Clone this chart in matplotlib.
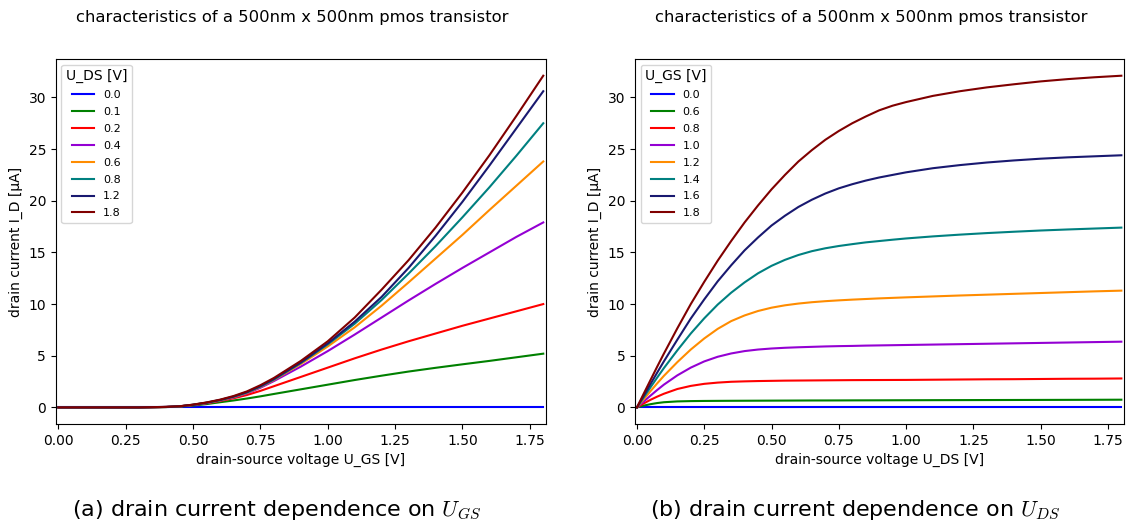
import matplotlib
matplotlib.use("Agg")
from matplotlib import pyplot as plt

# (a) I_D over U_GS, one curve per U_DS
u_gs = [0.0, 0.1, 0.2, 0.3, 0.4, 0.45, 0.5, 0.55, 0.6, 0.65, 0.7, 0.75, 0.8,
        0.9, 1.0, 1.1, 1.2, 1.3, 1.4, 1.5, 1.6, 1.7, 1.8]
u_ds_labels = ["0.0", "0.1", "0.2", "0.4", "0.6", "0.8", "1.2", "1.8"]
id_ds_00 = [0.0] * 23
id_ds_01 = [0, 0, 0, 0, 0.03, 0.08, 0.18, 0.32, 0.5, 0.67, 0.86, 1.07, 1.3,
            1.75, 2.2, 2.65, 3.07, 3.47, 3.83, 4.17, 4.5, 4.85, 5.2]
id_ds_02 = [0, 0, 0, 0, 0.04, 0.1, 0.22, 0.4, 0.62, 0.88, 1.2, 1.6, 2.05,
            2.95, 3.85, 4.75, 5.6, 6.4, 7.15, 7.9, 8.6, 9.3, 10.0]
id_ds_04 = [0, 0, 0, 0, 0.04, 0.1, 0.24, 0.42, 0.66, 0.96, 1.35, 1.9, 2.55,
            3.95, 5.45, 7.05, 8.7, 10.35, 11.95, 13.5, 15.0, 16.5, 17.9]
id_ds_06 = [0, 0, 0, 0, 0.04, 0.1, 0.25, 0.44, 0.68, 1.0, 1.4, 1.98, 2.65,
            4.2, 5.9, 7.75, 9.85, 12.1, 14.4, 16.7, 19.1, 21.45, 23.8]
id_ds_08 = [0, 0, 0, 0, 0.04, 0.1, 0.25, 0.45, 0.7, 1.03, 1.45, 2.02, 2.7,
            4.3, 6.1, 8.1, 10.4, 12.95, 15.6, 18.4, 21.3, 24.35, 27.5]
id_ds_12 = [0, 0, 0, 0, 0.05, 0.11, 0.26, 0.46, 0.72, 1.05, 1.48, 2.06, 2.75,
            4.35, 6.2, 8.3, 10.7, 13.5, 16.6, 19.9, 23.4, 27.0, 30.6]
id_ds_18 = [0, 0, 0, 0, 0.05, 0.11, 0.27, 0.48, 0.75, 1.1, 1.55, 2.15, 2.85,
            4.5, 6.4, 8.7, 11.4, 14.25, 17.4, 20.8, 24.4, 28.2, 32.1]

# (b) I_D over U_DS, one curve per U_GS
u_ds = [0.0, 0.025, 0.05, 0.075, 0.1, 0.15, 0.2, 0.25, 0.3, 0.35, 0.4, 0.45,
        0.5, 0.55, 0.6, 0.65, 0.7, 0.75, 0.8, 0.85, 0.9, 0.95, 1.0, 1.1,
        1.2, 1.3, 1.4, 1.5, 1.6, 1.7, 1.8]
u_gs_labels = ["0.0", "0.6", "0.8", "1.0", "1.2", "1.4", "1.6", "1.8"]
id_gs_00 = [0.0] * 31
id_gs_06 = [0, 0.17, 0.31, 0.42, 0.5, 0.58, 0.61, 0.625, 0.633, 0.64,
            0.645, 0.65, 0.655, 0.66, 0.665, 0.67, 0.672, 0.675, 0.68,
            0.683, 0.686, 0.69, 0.693, 0.7, 0.706, 0.712, 0.718, 0.724,
            0.73, 0.737, 0.745]
id_gs_08 = [0, 0.38, 0.73, 1.04, 1.32, 1.78, 2.08, 2.28, 2.4, 2.48, 2.52,
            2.55, 2.57, 2.59, 2.6, 2.61, 2.62, 2.63, 2.64, 2.645, 2.65,
            2.655, 2.66, 2.68, 2.7, 2.72, 2.73, 2.75, 2.77, 2.78, 2.8]
id_gs_10 = [0, 0.57, 1.13, 1.68, 2.2, 3.1, 3.85, 4.45, 4.9, 5.22, 5.45, 5.6,
            5.7, 5.77, 5.82, 5.86, 5.9, 5.93, 5.95, 5.98, 6.0, 6.02, 6.04,
            6.08, 6.12, 6.16, 6.2, 6.24, 6.28, 6.32, 6.36]
id_gs_12 = [0, 0.78, 1.56, 2.32, 3.05, 4.38, 5.6, 6.67, 7.6, 8.35, 8.9,
            9.33, 9.65, 9.88, 10.05, 10.18, 10.28, 10.36, 10.43, 10.49,
            10.55, 10.6, 10.65, 10.74, 10.83, 10.91, 10.99, 11.07, 11.15,
            11.23, 11.3]
id_gs_14 = [0, 0.97, 1.93, 2.88, 3.8, 5.52, 7.15, 8.62, 9.95, 11.1, 12.1,
            12.98, 13.7, 14.28, 14.75, 15.12, 15.4, 15.62, 15.8, 15.97, 16.1,
            16.23, 16.35, 16.55, 16.72, 16.87, 17.0, 17.12, 17.22, 17.31,
            17.4]
id_gs_16 = [0, 1.13, 2.25, 3.36, 4.45, 6.55, 8.6, 10.45, 12.2, 13.75, 15.2,
            16.45, 17.6, 18.55, 19.4, 20.1, 20.7, 21.2, 21.6, 21.95, 22.25,
            22.5, 22.75, 23.15, 23.45, 23.7, 23.9, 24.07, 24.2, 24.3, 24.4]
id_gs_18 = [0, 1.32, 2.63, 3.93, 5.2, 7.65, 10.0, 12.15, 14.2, 16.1, 17.9,
            19.55, 21.1, 22.5, 23.8, 24.9, 25.9, 26.75, 27.5, 28.15, 28.75,
            29.2, 29.55, 30.15, 30.6, 30.97, 31.27, 31.55, 31.77, 31.95, 32.1]

colors = ["blue", "green", "red", "darkviolet", "darkorange", "teal",
          "midnightblue", "maroon"]

plt.rcParams["mathtext.fontset"] = "cm"

fig = plt.figure(figsize=(11.28, 5.28), dpi=100)
ax1 = fig.add_axes([0.0494, 0.197, 0.4346, 0.691])
ax2 = fig.add_axes([0.563, 0.197, 0.4335, 0.691])

curves_a = [id_ds_00, id_ds_01, id_ds_02, id_ds_04, id_ds_06, id_ds_08,
            id_ds_12, id_ds_18]
for lab, ys, c in zip(u_ds_labels, curves_a, colors):
    ax1.plot(u_gs, ys, color=c, label=lab, linewidth=1.5)

curves_b = [id_gs_00, id_gs_06, id_gs_08, id_gs_10, id_gs_12, id_gs_14,
            id_gs_16, id_gs_18]
for lab, ys, c in zip(u_gs_labels, curves_b, colors):
    ax2.plot(u_ds, ys, color=c, label=lab, linewidth=1.5)

ax1.set_xlim(-0.01, 1.81)
ax2.set_xlim(-0.007, 1.81)
ax1.set_xlabel("drain-source voltage U_GS [V]")
ax2.set_xlabel("drain-source voltage U_DS [V]")
for ax in (ax1, ax2):
    ax.set_ylabel("drain current I_D [µA]")
ax1.legend(title="U_DS [V]", loc="upper left", fontsize=8, title_fontsize=10,
           labelspacing=0.62)
ax2.legend(title="U_GS [V]", loc="upper left", fontsize=8, title_fontsize=10,
           labelspacing=0.62)

title = "characteristics of a 500nm x 500nm pmos transistor"
fig.text(0.259, 0.966, title, ha="center", va="center", fontsize=11.8)
fig.text(0.772, 0.966, title, ha="center", va="center", fontsize=11.8)

fig.text(0.245, 0.034, r"(a) drain current dependence on $U_{GS}$",
         ha="center", va="center", fontsize=16)
fig.text(0.758, 0.034, r"(b) drain current dependence on $U_{DS}$",
         ha="center", va="center", fontsize=16)

fig.savefig("out.png", dpi=100)
